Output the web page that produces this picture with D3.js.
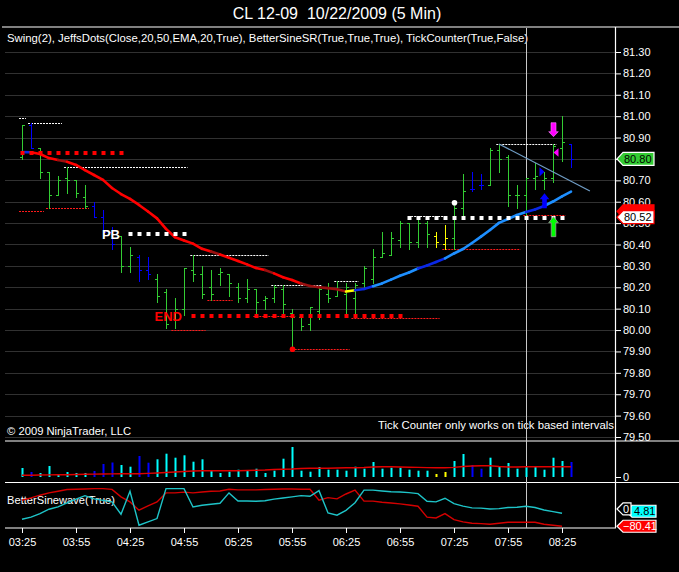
<!DOCTYPE html>
<html><head><meta charset="utf-8">
<script src="https://cdn.jsdelivr.net/npm/d3@7"></script>
<style>html,body{margin:0;padding:0;background:#000;overflow:hidden}</style>
</head><body>
<svg id="c" width="679" height="572"></svg>
<script>
// ---------- DATA ----------
const tickLabels = ["03:25","03:55","04:25","04:55","05:25","05:55","06:25","06:55","07:25","07:55","08:25"];
const tickIdx = [0,6,12,18,24,30,36,42,48,54,60];
const priceTicks = [79.5,79.6,79.7,79.8,79.9,80.0,80.1,80.2,80.3,80.4,80.5,80.6,80.7,80.8,80.9,81.0,81.1,81.2,81.3];

const opens = [80.81,80.96,80.85,80.74,80.63,80.71,80.70,80.62,80.58,80.53,
               80.46,80.44,80.30,80.34,80.28,80.24,80.18,80.05,80.10,80.28,
               80.26,80.20,80.26,80.26,80.20,80.15,80.19,80.14,80.15,80.19,
               80.08,80.06,80.03,80.09,80.17,80.16,80.17,80.15,80.22,80.24,
               80.34,80.35,80.42,80.50,80.41,80.50,80.44,80.40,80.43,80.57,
               80.66,80.68,80.68,80.84,80.81,80.63,80.63,80.71,80.70,80.71,
               80.85,80.87];
const highs = [80.96,80.97,80.85,80.74,80.72,80.76,80.70,80.68,80.60,80.56,
               80.48,80.44,80.39,80.35,80.34,80.26,80.19,80.15,80.29,80.35,
               80.30,80.28,80.29,80.26,80.22,80.24,80.19,80.16,80.21,80.21,
               80.10,80.06,80.11,80.20,80.22,80.23,80.22,80.22,80.30,80.38,
               80.46,80.46,80.51,80.50,80.52,80.51,80.46,80.49,80.59,80.73,
               80.74,80.73,80.85,80.87,80.82,80.68,80.71,80.78,80.74,80.87,
               81.00,80.87];
const lows = [80.80,80.85,80.71,80.57,80.63,80.64,80.62,80.57,80.53,80.44,
              80.38,80.27,80.27,80.23,80.24,80.13,80.01,80.01,80.07,80.23,
              80.15,80.14,80.21,80.16,80.13,80.13,80.08,80.10,80.13,80.07,
              79.91,80.00,80.00,80.05,80.13,80.16,80.08,80.06,80.19,80.22,
              80.34,80.35,80.39,80.38,80.39,80.39,80.39,80.38,80.38,80.54,
              80.65,80.66,80.68,80.74,80.58,80.57,80.54,80.66,80.66,80.69,
              80.79,80.76];
const closes = [80.96,80.85,80.74,80.63,80.70,80.70,80.64,80.58,80.53,80.46,
                80.40,80.30,80.35,80.28,80.26,80.16,80.03,80.10,80.29,80.26,
                80.17,80.17,80.27,80.22,80.15,80.19,80.13,80.15,80.20,80.12,
                80.06,80.02,80.11,80.19,80.15,80.19,80.20,80.21,80.29,80.34,
                80.36,80.43,80.50,80.41,80.50,80.45,80.41,80.43,80.57,80.65,
                80.66,80.68,80.84,80.80,80.63,80.63,80.71,80.72,80.71,80.86,
                80.88,80.80];
const barKinds = ("GB" + "GGGGGG" + "BBB" + "GG" + "BB" + "GGGGGGGGGGGGGGGGGGGGGGGGGGGGGGG" + "YY" + "GG" + "BB" + "GGGGGGGGG" + "B").split("");

const volumes = [900,500,400,1100,300,500,400,400,600,1300,
                 1450,1200,1030,2100,1430,1770,2330,1930,2170,1530,
                 1770,630,400,530,730,630,830,400,630,1830,
                 3000,630,530,1000,730,730,630,1030,830,1500,
                 830,930,930,730,630,630,300,500,1600,2300,
                 1200,830,1930,1030,1400,830,1100,1100,730,1930,
                 1600,1500];
const volumeMA = [170,180,200,210,220,230,250,270,290,300,
                  310,320,330,330,360,400,450,500,550,600,
                  630,630,630,630,630,650,670,700,750,770,
                  800,850,870,870,870,900,920,930,950,1000,
                  1030,1030,1000,980,960,940,930,930,960,1050,
                  1100,1130,1130,1050,1000,1000,1030,1030,1030,1030,
                  1030,1030];

const ema = [80.832,80.831,80.823,80.804,80.795,80.787,80.772,80.748,80.725,80.702,
             80.664,80.636,80.613,80.585,80.554,80.522,80.473,80.434,80.419,80.404,
             80.380,80.367,80.353,80.338,80.323,80.307,80.290,80.281,80.265,80.247,
             80.234,80.218,80.206,80.200,80.196,80.191,80.180,80.186,80.192,80.205,
             80.218,80.236,80.254,80.269,80.288,80.302,80.318,80.335,80.358,80.379,
             80.407,80.437,80.468,80.501,80.519,80.538,80.552,80.564,80.580,80.601,
             80.625,80.647];
const emaKinds = ("-brrrd" + "rrrrrrrrrrrrrrrr" + "d" + "rrrrr" + "d" + "rrr" + "ddddd" + "y" + "bb" + "lllll" + "bbb" + "lllllllll" + "bb" + "lll").split("");

const sineCyan = [-35,-21,2,31,46,72,97,120,99,89,
                  79,-2,149,-74,-52,-30,166,166,166,46,
                  57,64,70,138,85,85,83,87,97,105,
                  112,120,116,153,7,-8,24,74,156,156,
                  151,146,144,140,133,83,79,103,68,51,
                  40,38,33,35,42,44,51,42,26,15,
                  4.81];
const sineRed = [90,105,123,138,149,160,162,164,166,166,
                 161,112,79,25,53,79,138,138,143,138,
                 144,149,151,162,158,158,158,160,162,164,
                 164,162,162,90,107,99,131,156,84,84,
                 77,72,66,59,51,-21,-26,2,-37,-52,
                 -61,-63,-67,-61,-54,-54,-54,-54,-67,-74,
                 -80.41];

// swing lines: [fromIndex, toIndex, price]
const swingHighs = [[-0.33,0.44,80.99],[0.67,4.44,80.97],[4.67,18.4,80.76],[18.7,27.4,80.35],
                    [27.7,33.3,80.21],[34.7,37.4,80.23],[42.9,47.0,80.535],[52.7,59.4,80.87]];
const swingLows = [[-0.33,2.44,80.557],[2.67,7.44,80.57],[16.6,20.4,80.00],[20.6,23.4,80.14],
                   [25.7,30.4,80.065],[36.6,46.4,80.055],[30.3,36.4,79.91],[46.7,55.4,80.38],[55.7,60.4,80.54]];
// square dot runs
const runStart = [0,12,19,43];
const runEnd = [11,18,42,60];
const runPrice = [80.83,80.45,80.065,80.525];
const runKind = ["sell","buy","sell","buy"];
const runText = ["","PB","END",""];
// swing points
const swingHighDot = [48, 80.595];
const swingLowDot = [30, 79.91];
// arrows [index, price]
const downArrowMagenta = [59, 80.904];
const leftTriMagenta = [59, 80.83];
const rightTriBlue = [58, 80.74];
const upArrowBlue = [58, 80.64];
const upArrowGreen = [59, 80.53];
const trendLine = [[53, 80.87],[63.1, 80.65]];
const cursorIdx = 56.05;
const lastClose = closes[closes.length-1];
const redLevel = 80.555, whiteLevel = 80.53, whiteLevelText = "80.52";

// ---------- SCALES ----------
const FONT = "'Liberation Sans', Arial, sans-serif";
const x = d3.scaleLinear().domain([0,61]).range([22,571]);
const y = d3.scaleLinear().domain([79.5,81.3]).range([437,52]);
const yV = d3.scaleLinear().domain([0,3400]).range([477,443]);
const yS = d3.scaleLinear().domain([-92,203]).range([528,483]);
const R = v => Math.round(v)+0.5;

const svg = d3.select("#c");
svg.append("rect").attr("width",679).attr("height",572).attr("fill","#000");

// grid
svg.append("g").selectAll("line").data(priceTicks).join("line")
  .attr("x1",5).attr("x2",615).attr("y1",d=>R(y(d))).attr("y2",d=>R(y(d)))
  .attr("stroke","#313131");

// separators
const sep = svg.append("g").attr("stroke","#fff").attr("stroke-width",1.2);
sep.append("line").attr("x1",2).attr("x2",679).attr("y1",27).attr("y2",27);
sep.append("line").attr("x1",5).attr("x2",679).attr("y1",441).attr("y2",441);
sep.append("line").attr("x1",5).attr("x2",679).attr("y1",482.5).attr("y2",482.5);
sep.append("line").attr("x1",5).attr("x2",616).attr("y1",528).attr("y2",528);
sep.append("line").attr("x1",615.5).attr("x2",615.5).attr("y1",27).attr("y2",528);

// texts
svg.append("text").attr("x",337).attr("y",19).attr("text-anchor","middle")
  .attr("fill","#fff").attr("font-family",FONT).attr("font-size",16)
  .style("white-space","pre").text("CL 12-09  10/22/2009 (5 Min)");
svg.append("text").attr("x",7).attr("y",42).attr("fill","#fff").attr("font-family",FONT)
  .attr("font-size",11).attr("textLength",521).attr("lengthAdjust","spacingAndGlyphs")
  .text("Swing(2), JeffsDots(Close,20,50,EMA,20,True), BetterSineSR(True,True,True), TickCounter(True,False)");
svg.append("text").attr("x",7).attr("y",435).attr("fill","#fff").attr("font-family",FONT)
  .attr("font-size",11.5).attr("textLength",124).attr("lengthAdjust","spacingAndGlyphs")
  .text("© 2009 NinjaTrader, LLC");
svg.append("text").attr("x",614).attr("y",428.5).attr("text-anchor","end").attr("fill","#fff").attr("font-family",FONT)
  .attr("font-size",11.5).attr("textLength",236).attr("lengthAdjust","spacingAndGlyphs")
  .text("Tick Counter only works on tick based intervals");
svg.append("text").attr("x",7).attr("y",503.5).attr("fill","#fff").attr("font-family",FONT)
  .attr("font-size",11.5).attr("textLength",108).attr("lengthAdjust","spacingAndGlyphs")
  .text("BetterSinewave(True)");

// price axis
const pa = svg.append("g").attr("transform","translate(615,0)")
  .call(d3.axisRight(y).tickValues(priceTicks).tickFormat(d3.format(".2f")).tickSize(6).tickPadding(2));
pa.select(".domain").remove();
pa.selectAll("line").attr("stroke","#fff");
pa.selectAll("text").attr("fill","#fff").attr("font-family",FONT).attr("font-size",11);

// time axis
const ta = svg.append("g").attr("transform","translate(0,528)")
  .call(d3.axisBottom(x).tickValues(tickIdx).tickFormat((d,i)=>tickLabels[i]).tickSize(5).tickPadding(5));
ta.select(".domain").remove();
ta.selectAll("line").attr("stroke","#fff");
ta.selectAll("text").attr("fill","#fff").attr("font-family",FONT).attr("font-size",11);

// cursor line
svg.append("line").attr("x1",R(x(cursorIdx))).attr("x2",R(x(cursorIdx))).attr("y1",28).attr("y2",528)
  .attr("stroke","#c8c8c8").attr("stroke-width",1);

// swing lines
svg.append("g").selectAll("line").data(swingHighs).join("line")
  .attr("x1",d=>x(d[0])).attr("x2",d=>x(d[1])).attr("y1",d=>R(y(d[2]))).attr("y2",d=>R(y(d[2])))
  .attr("stroke","#fff").attr("stroke-dasharray","2,1");
svg.append("g").selectAll("line").data(swingLows).join("line")
  .attr("x1",d=>x(d[0])).attr("x2",d=>x(d[1])).attr("y1",d=>R(y(d[2]))).attr("y2",d=>R(y(d[2])))
  .attr("stroke","#ff1a1a").attr("stroke-dasharray","2,1");

// price bars
const barColor = {G:"#33cc33",B:"#0000ff",Y:"#ffff00"};
svg.append("g").selectAll("path").data(d3.range(opens.length)).join("path")
  .attr("d",i=>{const xi=Math.round(x(i));
    return `M${xi+0.5},${R(y(highs[i]))-0.5}V${R(y(lows[i]))+0.5}`+
           `M${xi-2},${R(y(opens[i]))}H${xi+1}`+
           `M${xi},${R(y(closes[i]))}H${xi+3}`;})
  .attr("stroke",i=>barColor[barKinds[i]]).attr("stroke-width",1).attr("fill","none");

// trend line
svg.append("line").attr("x1",x(trendLine[0][0])).attr("y1",y(trendLine[0][1]))
  .attr("x2",x(trendLine[1][0])).attr("y2",y(trendLine[1][1]))
  .attr("stroke","#6f9cc4").attr("stroke-width",1.3);

// EMA segments
const emaColor = {r:"#ff0000",d:"#9a1010",y:"#ffff00",b:"#0a28e6",l:"#1e8fff"};
svg.append("g").selectAll("line").data(d3.range(1,ema.length)).join("line")
  .attr("x1",i=>x(i-1)).attr("y1",i=>y(ema[i-1])).attr("x2",i=>x(i)).attr("y2",i=>y(ema[i]))
  .attr("stroke",i=>emaColor[emaKinds[i]]).attr("stroke-width",2.6).attr("stroke-linecap","round");

// square dot runs
const runs = d3.range(runStart.length);
runs.forEach(r=>{
  const g = svg.append("g");
  g.selectAll("rect").data(d3.range(runStart[r],runEnd[r]+1)).join("rect")
    .attr("x",i=>Math.round(x(i))-1.5).attr("y",Math.round(y(runPrice[r]))-2)
    .attr("width",4).attr("height",4)
    .attr("fill",runKind[r]==="sell"?"#ff0000":"#ffffff");
  if(runText[r]){
    g.append("text").attr("x",x(runStart[r])-(runKind[r]==="sell"?11:10)).attr("y",y(runPrice[r])+5)
      .attr("text-anchor","end").attr("font-family",FONT).attr("font-weight","bold").attr("font-size",13)
      .attr("fill",runKind[r]==="sell"?"#ff0000":"#ffffff").text(runText[r]);
  }
});

// swing dots
svg.append("circle").attr("cx",x(swingHighDot[0])+0.5).attr("cy",y(swingHighDot[1])).attr("r",2.8).attr("fill","#fff");
svg.append("circle").attr("cx",x(swingLowDot[0])+0.5).attr("cy",y(swingLowDot[1])).attr("r",2.8).attr("fill","#ff0000");

// arrows
function downArrow(p, fill){const cx=x(p[0])+0.5, ty=y(p[1]);
  return svg.append("path").attr("d",`M${cx},${ty}L${cx-4.8},${ty-5}H${cx-2.5}V${ty-14}H${cx+2.5}V${ty-5}H${cx+4.8}Z`).attr("fill",fill);}
function upArrow(p, fill, len){const cx=x(p[0])+0.5, ty=y(p[1]);
  return svg.append("path").attr("d",`M${cx},${ty}L${cx-4.8},${ty+6}H${cx-2.3}V${ty+len}H${cx+2.3}V${ty+6}H${cx+4.8}Z`).attr("fill",fill);}
downArrow(downArrowMagenta,"#ff00ff").attr("stroke","#ff80ff").attr("stroke-width",0.6);
{const tx=x(leftTriMagenta[0])+0.5, ty=y(leftTriMagenta[1]);
 svg.append("path").attr("d",`M${tx},${ty}L${tx+5},${ty-4.2}V${ty+4.2}Z`).attr("fill","#ff00ff");}
{const tx=x(rightTriBlue[0])+0.5, ty=y(rightTriBlue[1]);
 svg.append("path").attr("d",`M${tx},${ty}L${tx-5},${ty-4.6}V${ty+4.6}Z`).attr("fill","#0000ff");}
upArrow(upArrowBlue,"#0000ff",15);
upArrow(upArrowGreen,"#00ff00",20).attr("stroke","#9a9a9a").attr("stroke-width",0.8);

// volume
const volColor = {G:"#00ffff",B:"#0000ff",Y:"#ffff00"};
svg.append("g").selectAll("rect").data(d3.range(volumes.length)).join("rect")
  .attr("x",i=>Math.round(x(i))-0.5).attr("width",2)
  .attr("y",i=>yV(volumes[i])).attr("height",i=>yV(0)-yV(volumes[i]))
  .attr("fill",i=>volColor[barKinds[i]]);
svg.append("path").datum(volumeMA).attr("d",d3.line().x((d,i)=>x(i)).y(d=>yV(d)))
  .attr("fill","none").attr("stroke","#e00000").attr("stroke-width",1.4);
svg.append("line").attr("x1",615).attr("x2",621).attr("y1",R(yV(0))).attr("y2",R(yV(0))).attr("stroke","#fff");
svg.append("text").attr("x",623).attr("y",yV(0)+4).attr("fill","#fff").attr("font-family",FONT).attr("font-size",11).text("0");

// sine lines
svg.append("path").datum(sineRed).attr("d",d3.line().x((d,i)=>x(i)).y(d=>yS(d)))
  .attr("fill","none").attr("stroke","#d40000").attr("stroke-width",1.4);
svg.append("path").datum(sineCyan).attr("d",d3.line().x((d,i)=>x(i)).y(d=>yS(d)))
  .attr("fill","none").attr("stroke","#1ec4c8").attr("stroke-width",1.4);

// tags
function tag(x0, cy, w, h, fill, stroke, txt, tcol, tx){
  const g = svg.append("g");
  g.append("path").attr("d",`M${x0},${cy}L${x0+6},${cy-h/2}H${x0+w}V${cy+h/2}H${x0+6}Z`)
    .attr("fill",fill).attr("stroke",stroke).attr("stroke-width",1.2);
  if(txt) g.append("text").attr("x",tx).attr("y",cy+4).attr("fill",tcol).attr("font-family",FONT)
    .attr("font-size",11).text(txt);
  return g;
}
tag(617, y(lastClose), 37, 13, "#33cc33", "#fff", d3.format(".2f")(lastClose), "#000", 624);
tag(617, y(redLevel), 37, 13, "#ff0000", "#ff0000", "", "#000", 624);
tag(617, y(whiteLevel)+0.5, 37, 13, "#ffffff", "#ff0000", whiteLevelText, "#000", 624);

const cyLast = sineCyan[sineCyan.length-1], rdLast = sineRed[sineRed.length-1];
tag(626, yS(cyLast)-2, 30, 12, "#00ffff", "#fff", d3.format(".2f")(cyLast), "#000", 634);
tag(617, yS(0)-5, 14, 12, "#000", "#fff", "0", "#fff", 623);
tag(617, yS(rdLast), 39, 12, "#ff0000", "#fff", d3.format(".2f")(rdLast), "#fff", 623);
</script>
</body></html>
